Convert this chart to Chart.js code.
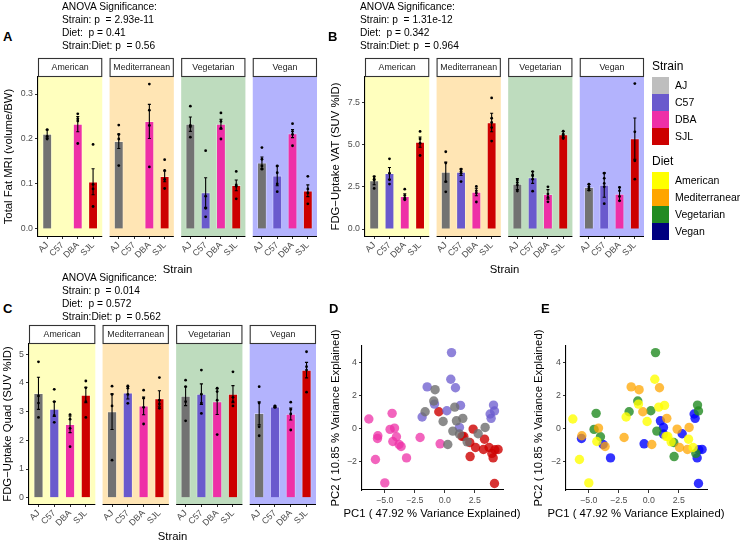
<!DOCTYPE html>
<html>
<head>
<meta charset="utf-8">
<script src="https://cdn.jsdelivr.net/npm/chart.js@4.4.1/dist/chart.umd.min.js"></script>
<style>
  body { margin: 0; background: #fff; }
  #fig { position: relative; width: 740px; height: 544px; overflow: hidden; font-family: "Liberation Sans", Arial, sans-serif; }
  canvas { position: absolute; }
  .t { position: absolute; white-space: pre; color: #000; }
  .tag { font-weight: bold; font-size: 13px; line-height: 15px; }
  .anova { font-size: 10.2px; line-height: 13px; }
  .xt { font-size: 11.3px; line-height: 14px; transform: translateX(-50%); }
  .lt { font-size: 12px; line-height: 14px; }
  .ll { font-size: 10.5px; line-height: 17px; }
  .key { position: absolute; width: 17px; height: 17px; }
</style>
</head>
<body>
<div id="fig">
  <canvas id="panelA" width="330" height="230" style="left:0;top:50px"></canvas>
  <canvas id="panelB" width="330" height="230" style="left:322px;top:50px"></canvas>
  <canvas id="panelC" width="330" height="224" style="left:0;top:320px"></canvas>
  <canvas id="panelD" width="200" height="210" style="left:321px;top:320px"></canvas>
  <canvas id="panelE" width="200" height="210" style="left:524px;top:320px"></canvas>

  <div class="t tag" style="left:3px;top:29px">A</div>
  <div class="t tag" style="left:328px;top:29px">B</div>
  <div class="t tag" style="left:3px;top:301px">C</div>
  <div class="t tag" style="left:329px;top:301px">D</div>
  <div class="t tag" style="left:541px;top:301px">E</div>

  <div class="t anova" style="left:62px;top:0px">ANOVA Significance:
Strain: p  = 2.93e-11
Diet:  p = 0.41
Strain:Diet: p  = 0.56</div>
  <div class="t anova" style="left:360px;top:0px">ANOVA Significance:
Strain: p  = 1.31e-12
Diet:  p = 0.342
Strain:Diet: p  = 0.964</div>
  <div class="t anova" style="left:62px;top:271px">ANOVA Significance:
Strain: p  = 0.014
Diet:  p = 0.572
Strain:Diet: p  = 0.562</div>

  <div class="t xt" style="left:432px;top:506px">PC1 ( 47.92 % Variance Explained)</div>
  <div class="t xt" style="left:636px;top:506px">PC1 ( 47.92 % Variance Explained)</div>
  <div id="legend"></div>
</div>
<script>
const strains = ['AJ', 'C57', 'DBA', 'SJL'];
const diets = ['American', 'Mediterranean', 'Vegetarian', 'Vegan'];

// Total fat MRI (volume/BW): bar means, standard errors, single animals
const fatMean = [
  [0.211, null, 0.233, 0.105],
  [0.195, null, 0.239, 0.117],
  [0.233, 0.081, 0.233, 0.097],
  [0.147, 0.118, 0.212, 0.085]
];
const fatSe = [
  [0.009, null, 0.017, 0.029],
  [0.016, null, 0.038, 0.012],
  [0.016, 0.033, 0.011, 0.012],
  [0.013, 0.022, 0.009, 0.013]
];
const fatPts = [
  [[0.221, 0.206, 0.2], [], [0.256, 0.245, 0.24, 0.19], [0.188, 0.099, 0.089, 0.05]],
  [[0.231, 0.21, 0.2, 0.141], [], [0.322, 0.264, 0.23, 0.138], [0.154, 0.13, 0.11, 0.09]],
  [[0.273, 0.23, 0.227, 0.204], [0.174, 0.073, 0.046, 0.027], [0.258, 0.239, 0.224, 0.2], [0.128, 0.098, 0.095, 0.067]],
  [[0.181, 0.155, 0.14, 0.133], [0.14, 0.125, 0.1, 0.083], [0.234, 0.217, 0.21, 0.185], [0.117, 0.089, 0.08, 0.056]]
];

// FDG uptake VAT (SUV %ID)
const vatMean = [
  [2.87, 3.29, 1.93, 5.14],
  [3.37, 3.37, 2.19, 6.3],
  [2.66, 3.05, 2.05, 5.59],
  [2.46, 2.6, 2.07, 5.35]
];
const vatSe = [
  [0.25, 0.35, 0.16, 0.3],
  [0.59, 0.2, 0.22, 0.55],
  [0.32, 0.35, 0.28, 0.18],
  [0.18, 0.72, 0.4, 1.22]
];
const vatPts = [
  [[3.1, 2.95, 2.9, 2.4], [4.15, 3.3, 2.91, 2.66], [2.36, 1.99, 1.83, 1.73], [5.77, 5.33, 5.08, 4.35]],
  [[4.57, 3.9, 2.81, 2.2], [3.54, 3.41, 3.3, 2.81], [2.52, 2.26, 2.13, 1.6], [7.75, 6.55, 6.3, 6.0, 5.2]],
  [[2.9, 2.75, 2.6, 2.25], [3.4, 3.2, 3.15, 2.95, 2.24], [2.5, 2.07, 1.87, 1.61], [5.79, 5.61, 5.51, 5.35]],
  [[2.65, 2.5, 2.4, 2.3], [3.3, 3.0, 2.7, 2.5, 1.5], [2.46, 2.26, 1.93, 1.67], [8.6, 5.75, 4.04, 2.95]]
];

// FDG uptake quad (SUV %ID)
const quadMean = [
  [3.64, 3.09, 2.56, 3.58],
  [3.0, 3.66, 3.2, 3.46],
  [3.54, 3.61, 3.35, 3.61],
  [2.94, 3.17, 2.92, 4.45]
];
const quadSe = [
  [0.56, 0.26, 0.29, 0.27],
  [0.62, 0.22, 0.31, 0.27],
  [0.33, 0.36, 0.45, 0.3],
  [0.4, 0.03, 0.21, 0.27]
];
const quadPts = [
  [[4.74, 3.55, 3.3, 2.8], [3.78, 3.35, 2.87, 2.63], [2.9, 2.74, 2.42, 1.78], [4.07, 3.83, 3.35, 2.8]],
  [[3.89, 3.6, 3.2, 1.31], [3.9, 3.82, 3.6, 3.29], [3.75, 3.47, 3.15, 2.57], [4.19, 3.4, 3.27, 3.12]],
  [[4.1, 3.87, 3.35, 2.68], [4.45, 3.61, 3.3, 2.94], [3.82, 3.7, 3.4, 2.2], [4.39, 3.5, 3.35, 3.2]],
  [[3.87, 3.3, 2.47, 2.16], [3.2, 3.17, 3.15], [3.33, 3.08, 2.92, 2.36], [5.09, 4.57, 4.45, 3.68]]
];

const fatTicks = [0, 0.1, 0.2, 0.3], fatLabels = ['0.0', '0.1', '0.2', '0.3'];
const vatTicks = [0, 2.5, 5, 7.5], vatLabels = ['0.0', '2.5', '5.0', '7.5'];
const quadTicks = [0, 1, 2, 3, 4, 5], quadLabels = ['0', '1', '2', '3', '4', '5'];

// PCA scores, strain index and diet index per animal
const pcaX = [-6.33, -4.39, -4.56, -4.19, -5.58, -5.61, -4.03, -4.33, -3.81, -3.64, -3.19, -5.78, -5.0, -2.06, -0.39,
  -0.81, -0.92, -1.64, 0.83, -0.14, 0.97, 1.5, 0.67, 1.22, 0.25, 1.86, 2.78, 3.36,
  0.56, 0.5, 0.89, -1.47, -0.86, -1.89, 0.17, 1.31, 1.22, 4.06, 3.78, 4.14, 3.86,
  -0.5, 1.44, 1.58, 2.08, 2.36, 2.11, 2.56, 3.31, 3.22, 3.69, 3.92, 4.03, 4.17, 4.44, 4.14];
const pcaY = [0.59, 0.93, -0.04, 0.04, -0.42, -0.59, -0.48, -0.77, -0.95, -1.07, -1.76, -1.86, -3.27, -0.53, -0.91,
  2.36, 1.68, 1.03, 1.31, 0.44, 0.48, 0.63, -0.14, -0.32, -0.95, -0.79, -0.3, 0.08,
  4.6, 2.99, 2.48, 2.53, 1.49, 0.71, 1.09, 1.41, 0.08, 1.43, 0.89, 1.07, 0.63,
  1.03, -0.46, -0.46, -0.83, -0.02, -1.68, -1.13, -0.63, -1.25, -1.13, -1.49, -1.76, -1.27, -1.25, -3.31];
const pcaStrain = [2, 2, 2, 2, 2, 2, 2, 2, 2, 2, 2, 2, 2, 2, 2,
  0, 0, 0, 0, 0, 0, 0, 0, 0, 0, 0, 0, 0,
  1, 1, 1, 1, 1, 1, 1, 1, 1, 1, 1, 1, 1,
  3, 3, 3, 3, 3, 3, 3, 3, 3, 3, 3, 3, 3, 3, 3];
const pcaDiet = [0, 2, 2, 1, 1, 3, 2, 0, 3, 1, 3, 0, 0, 1, 3,
  1, 2, 2, 0, 0, 3, 1, 2, 3, 1, 0, 3, 1,
  2, 0, 1, 1, 0, 0, 2, 0, 3, 2, 3, 2, 3,
  1, 0, 0, 2, 1, 2, 1, 0, 1, 0, 2, 3, 3, 3, 3];
const pcaXTicks = [-5, -2.5, 0, 2.5], pcaXLabels = ['\u22125.0', '\u22122.5', '0.0', '2.5'];
const pcaYTicks = [-2, 0, 2, 4], pcaYLabels = ['\u22122', '0', '2', '4'];

const strainColors = ['#727272', '#6a5acd', '#ee30a7', '#cd0000'];
const strainKeyColors = ['#bebebe', '#6a5acd', '#ee30a7', '#cd0000'];
const dietKeyColors = ['#ffff00', '#ffa500', '#228b22', '#000080'];
const dietPanelColors = ['#ffffbe', '#ffe5b4', '#bedcbe', '#b3b3fd'];
const pcaStrainColors = ['rgba(110,110,110,0.8)', 'rgba(106,90,205,0.75)', 'rgba(238,48,167,0.75)', 'rgba(205,0,0,0.8)'];
const pcaDietColors = ['rgba(255,255,0,0.8)', 'rgba(255,165,0,0.75)', 'rgba(34,139,34,0.8)', 'rgba(0,0,255,0.8)'];

const FONT = '"Liberation Sans", Arial, sans-serif';
Chart.defaults.font.family = FONT;
const tickFont = { size: 8.8 };
const titleFont = { size: 11.3 };

// background, strip and error bar drawing for one faceted panel
function facets(K, mean, se) {
  return {
    id: 'facets',
    beforeDraw(chart) {
      const { ctx, chartArea: a, scales: { x } } = chart;
      ctx.save();
      diets.forEach((d, f) => {
        const l = x.getPixelForValue(f * K - 0.6), r = x.getPixelForValue(f * K + 3.6);
        ctx.fillStyle = dietPanelColors[f];
        ctx.fillRect(l, a.top, r - l, a.bottom - a.top);
        ctx.fillStyle = '#fff';
        ctx.fillRect(l, a.top - 19, r - l, 19);
        ctx.strokeStyle = '#333';
        ctx.lineWidth = 1.1;
        ctx.strokeRect(l + 0.5, a.top - 18.5, r - l - 1, 18);
        ctx.fillStyle = '#1a1a1a';
        ctx.font = '8.8px ' + FONT;
        ctx.textAlign = 'center';
        ctx.textBaseline = 'middle';
        ctx.fillText(d, (l + r) / 2, a.top - 9.5);
      });
      ctx.restore();
    },
    afterDatasetDraw(chart, args) {
      if (args.meta.type !== 'bar') return;
      const { ctx, scales: { x, y } } = chart;
      ctx.save();
      ctx.strokeStyle = '#000';
      ctx.lineWidth = 1.1;
      mean.forEach((row, f) => row.forEach((m, i) => {
        if (m === null) return;
        const px = x.getPixelForValue(f * K + i);
        const hw = Math.abs(x.getPixelForValue(0.1) - x.getPixelForValue(0));
        const lo = y.getPixelForValue(m - se[f][i]), hi = y.getPixelForValue(m + se[f][i]);
        ctx.beginPath();
        ctx.moveTo(px, lo); ctx.lineTo(px, hi);
        ctx.moveTo(px - hw, lo); ctx.lineTo(px + hw, lo);
        ctx.moveTo(px - hw, hi); ctx.lineTo(px + hw, hi);
        ctx.stroke();
      }));
      ctx.restore();
    },
    afterDraw(chart) {
      const { ctx, chartArea: a, scales: { x } } = chart;
      ctx.save();
      ctx.strokeStyle = '#000';
      ctx.lineWidth = 1.1;
      diets.forEach((d, f) => {
        ctx.beginPath();
        ctx.moveTo(x.getPixelForValue(f * K - 0.6), a.bottom + 0.5);
        ctx.lineTo(x.getPixelForValue(f * K + 3.6), a.bottom + 0.5);
        ctx.stroke();
      });
      ctx.restore();
    }
  };
}

function barPanel(id, o) {
  const K = o.K;
  const bars = [], barCols = [], dots = [], ticksX = [];
  diets.forEach((d, f) => strains.forEach((s, i) => {
    const x = f * K + i;
    ticksX.push(x);
    if (o.mean[f][i] !== null) {
      bars.push({ x, y: o.mean[f][i] });
      barCols.push(strainColors[i]);
    }
    o.pts[f][i].forEach(v => dots.push({ x, y: v }));
  }));
  new Chart(document.getElementById(id), {
    type: 'bar',
    data: {
      datasets: [
        { type: 'scatter', data: dots, pointRadius: 1.4, pointBackgroundColor: '#000', pointBorderWidth: 0 },
        { type: 'bar', data: bars, backgroundColor: barCols, barThickness: o.barW, borderWidth: 1, borderColor: 'rgba(255,255,255,0.3)', borderSkipped: 'start' }
      ]
    },
    options: {
      responsive: false, animation: false, devicePixelRatio: 1, events: [],
      layout: { padding: o.pad },
      plugins: { legend: { display: false }, tooltip: { enabled: false } },
      scales: {
        x: {
          type: 'linear', min: -0.6, max: 3 * K + 3.6, offset: false,
          afterFit: s => { s.height = o.xH; },
          afterBuildTicks: s => { s.ticks = ticksX.map(v => ({ value: v })); },
          ticks: { autoSkip: false, minRotation: 45, maxRotation: 45, callback: (v, i) => strains[i % 4], color: '#4d4d4d', font: tickFont, padding: 1 },
          grid: { offset: false, drawOnChartArea: false, tickLength: 3, color: '#333' },
          border: { display: false },
          title: { display: true, text: 'Strain', color: '#000', font: titleFont, padding: { top: 0, bottom: o.xTitlePad } }
        },
        y: {
          type: 'linear', min: o.yMin, max: o.yMax,
          afterFit: s => { s.width = o.yW; },
          afterBuildTicks: s => { s.ticks = o.yTicks.map(v => ({ value: v })); },
          ticks: { callback: (v, i) => o.yLabels[i], color: '#4d4d4d', font: tickFont, padding: 2 },
          grid: { drawOnChartArea: false, tickLength: 3, color: '#333' },
          border: { display: true, color: '#000', width: 1.1 },
          title: { display: true, text: o.yTitle, color: '#000', font: titleFont, padding: { top: o.yTitlePad, bottom: 0 } }
        }
      }
    },
    plugins: [facets(K, o.mean, o.se)]
  });
}

function pcaPanel(id, groups, colors, o) {
  const sets = colors.map((c, g) => ({
    data: pcaX.map((x, k) => ({ x, y: pcaY[k] })).filter((p, k) => groups[k] === g),
    pointRadius: 4.7, pointBackgroundColor: c, pointBorderWidth: 0
  }));
  new Chart(document.getElementById(id), {
    type: 'scatter',
    data: { datasets: sets },
    options: {
      responsive: false, animation: false, devicePixelRatio: 1, events: [],
      layout: { padding: o.pad },
      plugins: { legend: { display: false }, tooltip: { enabled: false } },
      scales: {
        x: {
          type: 'linear', min: -6.9, max: 4.85,
          afterFit: s => { s.height = 40; },
          afterBuildTicks: s => { s.ticks = pcaXTicks.map(v => ({ value: v })); },
          ticks: { callback: (v, i) => pcaXLabels[i], color: '#4d4d4d', font: tickFont, padding: 2 },
          grid: { drawOnChartArea: false, tickLength: 3, color: '#333' },
          border: { display: true, color: '#000', width: 1.1 }
        },
        y: {
          type: 'linear', min: -3.7, max: 5.0,
          afterFit: s => { s.width = o.yW; },
          afterBuildTicks: s => { s.ticks = pcaYTicks.map(v => ({ value: v })); },
          ticks: { callback: (v, i) => pcaYLabels[i], color: '#4d4d4d', font: tickFont, padding: 2 },
          grid: { drawOnChartArea: false, tickLength: 3, color: '#333' },
          border: { display: true, color: '#000', width: 1.1 },
          title: { display: true, text: 'PC2 ( 10.85 % Variance Explained)', color: '#000', font: titleFont, padding: { top: o.yTitlePad, bottom: 0 } }
        }
      }
    }
  });
}

barPanel('panelA', {
  K: 4.68, mean: fatMean, se: fatSe, pts: fatPts, barW: 9.2,
  yMin: -0.0156, yMax: 0.3378, yTicks: fatTicks, yLabels: fatLabels,
  yTitle: 'Total Fat MRI (volume/BW)', yTitlePad: 2, xTitlePad: 3,
  pad: { left: 0, top: 27, right: 13, bottom: 0 }, yW: 38, xH: 44
});
barPanel('panelB', {
  K: 4.68, mean: vatMean, se: vatSe, pts: vatPts, barW: 9.2,
  yMin: -0.41, yMax: 8.99, yTicks: vatTicks, yLabels: vatLabels,
  yTitle: 'FDG\u2212Uptake VAT (SUV %ID)', yTitlePad: 7, xTitlePad: 3,
  pad: { left: 0, top: 27, right: 8, bottom: 0 }, yW: 43, xH: 44
});
barPanel('panelC', {
  K: 4.66, mean: quadMean, se: quadSe, pts: quadPts, barW: 9.5,
  yMin: -0.22, yMax: 5.36, yTicks: quadTicks, yLabels: quadLabels,
  yTitle: 'FDG\u2212Uptake Quad (SUV %ID)', yTitlePad: 1, xTitlePad: 0,
  pad: { left: 0, top: 24, right: 14, bottom: 0 }, yW: 29, xH: 40
});
pcaPanel('panelD', pcaStrain, pcaStrainColors, { pad: { left: 0, top: 26, right: 18, bottom: 0 }, yW: 41, yTitlePad: 8 });
pcaPanel('panelE', pcaDiet, pcaDietColors, { pad: { left: 0, top: 26, right: 17, bottom: 0 }, yW: 42, yTitlePad: 8 });

// legend
const legend = document.getElementById('legend');
function legendBlock(title, names, cols, top) {
  legend.insertAdjacentHTML('beforeend', `<div class="t lt" style="left:652px;top:${top}px">${title}</div>`);
  names.forEach((n, i) => {
    const y = top + 18 + 17 * i;
    legend.insertAdjacentHTML('beforeend',
      `<div class="key" style="left:652px;top:${y}px;background:${cols[i]}"></div>` +
      `<div class="t ll" style="left:675px;top:${y}px">${n}</div>`);
  });
}
legendBlock('Strain', strains, strainKeyColors, 59);
legendBlock('Diet', diets, dietKeyColors, 154);
</script>
</body>
</html>
